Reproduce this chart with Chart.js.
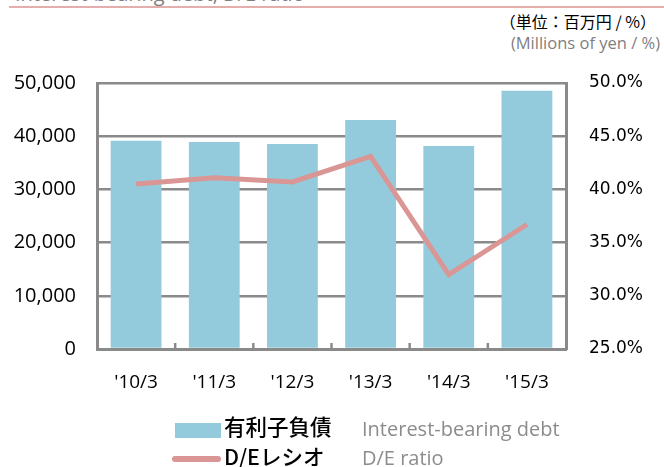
<!DOCTYPE html>
<html lang="ja">
<head>
    <meta charset="UTF-8">
    <title>Interest-bearing debt, D/E ratio</title>
    <style>
        body {
            margin: 0;
            padding: 0;
            background: #fff;
            width: 664px;
            height: 467px;
            overflow: hidden;
            position: relative;
            font-family: "Open Sans", "Noto Sans CJK JP", sans-serif;
        }
        .wrap { position: absolute; left: 0; top: 0; width: 664px; height: 467px; }
        .title {
            position: absolute; left: 15px; top: -16px; white-space: nowrap;
            font-size: 20px; line-height: 20px; color: #7f7f7f;
        }
        .rule {
            position: absolute; left: 9px; top: 6px; width: 655px; height: 2px;
            background: #e3aeac;
        }
        .unit-ja {
            position: absolute; right: 8px; top: 10px; white-space: nowrap;
            font-family: "Noto Sans CJK JP", sans-serif;
            font-size: 16px; line-height: 22px; color: #000;
        }
        .unit-en {
            position: absolute; right: 4px; top: 33px; white-space: nowrap;
            font-size: 16.5px; line-height: 20px; color: #7f7f7f;
        }
        .sw-bar { position: absolute; left: 175px; top: 423px; width: 46px; height: 15px; background: #94cbdc; }
        .sw-line { position: absolute; left: 172px; top: 456px; width: 49px; height: 6px; border-radius: 3px; background: #d99694; }
        .lg-ja {
            position: absolute; left: 224px; white-space: nowrap;
            font-family: "Noto Sans CJK JP", sans-serif;
            font-size: 21.5px; line-height: 26px; color: #000; font-weight: 500;
        }
        .lg-en {
            position: absolute; left: 362px; white-space: nowrap;
            font-size: 20px; line-height: 26px; color: #8c8c8c;
        }
    </style>
</head>
<body>
    <div class="title">Interest-bearing debt, D/E ratio</div>
    <div class="rule"></div>
    <div class="unit-ja">（単位：百万円 / %）</div>
    <div class="unit-en">(Millions of yen / %)</div>

    <div class="wrap"><canvas id="chart" width="664" height="467"></canvas></div>

    <div class="sw-bar"></div>
    <div class="lg-ja" style="top:413px;">有利子負債</div>
    <div class="lg-en" style="top:416px;">Interest-bearing debt</div>
    <div class="sw-line"></div>
    <div class="lg-ja" style="top:443px;">D/Eレシオ</div>
    <div class="lg-en" style="top:445px;">D/E ratio</div>

    <script src="https://cdn.jsdelivr.net/npm/chart.js"></script>
    <script>
        // data
        const categories = ["'10/3", "'11/3", "'12/3", "'13/3", "'14/3", "'15/3"];
        const debt = [39150, 38900, 38550, 43050, 38150, 48550];   // 百万円
        const deRatio = [40.5, 41.1, 40.7, 43.1, 32.0, 36.7];      // %

        const gridColor = '#8a8a8a';

        // small upward ticks between the categories on the bottom axis
        const innerTicks = {
            id: 'innerTicks',
            afterDraw(chart) {
                const x = chart.scales.x;
                const ctx = chart.ctx;
                const bottom = chart.chartArea.bottom;
                ctx.save();
                ctx.strokeStyle = gridColor;
                ctx.lineWidth = 2.5;
                for (let i = 0; i < categories.length - 1; i++) {
                    const px = (x.getPixelForValue(i) + x.getPixelForValue(i + 1)) / 2;
                    ctx.beginPath();
                    ctx.moveTo(px, bottom);
                    ctx.lineTo(px, bottom - 6);
                    ctx.stroke();
                }
                ctx.restore();
            }
        };

        new Chart(document.getElementById('chart'), {
            type: 'bar',
            data: {
                labels: categories,
                datasets: [
                    {
                        type: 'line',
                        label: 'D/Eレシオ',
                        data: deRatio,
                        yAxisID: 'y1',
                        borderColor: '#d99694',
                        borderWidth: 5,
                        pointRadius: 0,
                        tension: 0,
                        order: 0
                    },
                    {
                        type: 'bar',
                        label: '有利子負債',
                        data: debt,
                        yAxisID: 'y',
                        backgroundColor: '#94cbdc',
                        barPercentage: 0.65,
                        categoryPercentage: 1,
                        order: 1
                    }
                ]
            },
            options: {
                responsive: false,
                animation: false,
                layout: { padding: { top: 83, left: 0, right: 0, bottom: 0 } },
                plugins: {
                    legend: { display: false },
                    tooltip: { enabled: false }
                },
                scales: {
                    x: {
                        grid: { display: false, drawTicks: false },
                        border: { display: true, color: gridColor, width: 3 },
                        ticks: {
                            padding: 22,
                            color: '#000',
                            font: { family: 'Open Sans', size: 19 }
                        },
                        afterFit(scale) { scale.height = 118; }
                    },
                    y: {
                        position: 'left',
                        min: 0,
                        max: 50000,
                        grid: { color: gridColor, lineWidth: 2.5, drawTicks: false },
                        border: { display: true, color: gridColor, width: 3 },
                        ticks: {
                            stepSize: 10000,
                            padding: 21,
                            color: '#000',
                            font: { family: 'Open Sans', size: 20 },
                            callback: v => v.toLocaleString('en-US')
                        },
                        afterFit(scale) { scale.width = 97; }
                    },
                    y1: {
                        position: 'right',
                        min: 25,
                        max: 50,
                        grid: { drawOnChartArea: false, drawTicks: false },
                        border: { display: true, color: gridColor, width: 3 },
                        ticks: {
                            stepSize: 5,
                            padding: 23,
                            color: '#000',
                            font: { family: 'DejaVu Sans', size: 17 },
                            callback: v => v.toFixed(1) + '%'
                        },
                        afterFit(scale) { scale.width = 98; }
                    }
                }
            },
            plugins: [innerTicks]
        });
    </script>
</body>
</html>
